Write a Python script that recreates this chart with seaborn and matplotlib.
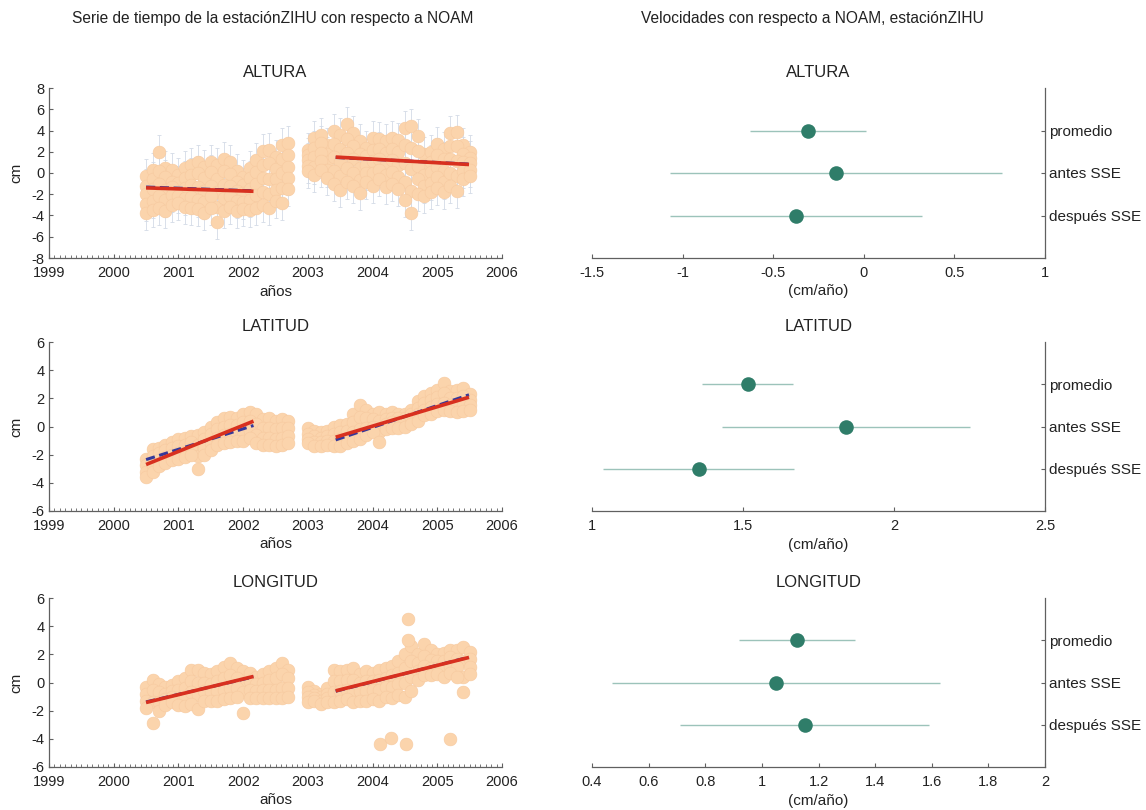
import numpy as np
import pandas as pd
import matplotlib
matplotlib.use("Agg")
import matplotlib.pyplot as plt
import seaborn as sns
from matplotlib.ticker import MultipleLocator, FuncFormatter

t_obs = [2000.5, 2000.6, 2000.7, 2000.8, 2000.9, 2001.0, 2001.1, 2001.2, 2001.3, 2001.4,
         2001.5, 2001.6, 2001.7, 2001.8, 2001.9, 2002.0, 2002.1, 2002.2, 2002.3, 2002.4,
         2002.5, 2002.6, 2002.7,
         2003.0, 2003.1, 2003.2, 2003.3, 2003.4, 2003.5, 2003.6, 2003.7, 2003.8, 2003.9,
         2004.0, 2004.1, 2004.2, 2004.3, 2004.4, 2004.5, 2004.6, 2004.7, 2004.8, 2004.9,
         2005.0, 2005.1, 2005.2, 2005.3, 2005.4, 2005.5]

# ALTURA (cm): spread of the cloud at each time, top to bottom
alt_hi = [-0.3, 0.3, 2.0, 0.5, 0.3, -0.2, 0.5, 0.8, 1.0, 0.6, 1.0, 0.8, 1.3, 1.0, 0.2, -0.4, 0.5, 1.2, 2.1, 2.2, 1.5, 2.6, 2.8,
          2.2, 3.3, 3.6, 2.6, 4.0, 3.6, 4.6, 3.8, 3.0, 2.4, 3.3, 3.2, 3.0, 3.3, 3.1, 4.2, 4.4, 3.5, 1.8, 2.0, 2.7, 2.3, 3.8, 3.9, 2.6, 2.0]
alt_up = [-1.2, -0.6, 0.2, -0.4, -0.8, -0.9, -0.5, -0.2, 0.0, -0.5, 0.1, -0.6, 0.2, -0.1, -0.8, -1.1, -0.5, 0.1, 0.8, 0.9, 0.4, 1.3, 1.7,
          1.7, 2.4, 2.8, 1.8, 2.7, 2.3, 3.2, 2.5, 1.8, 1.6, 2.2, 2.3, 1.9, 2.3, 2.0, 2.6, 2.4, 2.1, 0.8, 1.0, 1.7, 1.3, 2.5, 2.5, 1.8, 1.4]
alt_mid = [-2.0, -1.5, -1.0, -1.6, -1.3, -1.8, -1.4, -1.1, -1.3, -1.7, -1.2, -1.8, -1.1, -1.2, -1.7, -1.9, -1.5, -1.0, -0.5, -0.6, -0.6, 0.0, 0.6,
           1.2, 1.5, 1.9, 1.0, 1.5, 1.0, 1.9, 1.3, 0.5, 0.8, 1.1, 1.3, 0.8, 1.2, 0.8, 0.9, 0.4, 0.7, -0.2, 0.1, 0.6, 0.2, 1.3, 1.1, 1.0, 0.9]
alt_dn = [-2.9, -2.6, -2.2, -2.5, -2.1, -2.2, -2.4, -2.3, -2.5, -2.7, -2.2, -3.2, -2.4, -2.2, -2.6, -2.7, -2.5, -2.1, -1.8, -2.0, -1.6, -1.4, -0.5,
          0.7, 0.6, 1.1, 0.3, 0.2, -0.3, 0.5, 0.0, -0.7, 0.0, 0.0, 0.3, -0.2, 0.1, -0.4, -0.8, -1.7, -0.6, -1.2, -0.9, -0.4, -0.8, 0.0, -0.3, 0.2, 0.3]
alt_lo = [-3.8, -3.5, -3.3, -3.6, -3.0, -2.8, -3.2, -3.3, -3.4, -3.8, -3.3, -4.6, -3.6, -3.2, -3.6, -3.4, -3.5, -3.3, -3.0, -3.3, -2.6, -2.8, -1.5,
          0.2, -0.2, 0.3, -0.5, -1.0, -1.6, -0.8, -1.2, -1.9, -0.8, -1.2, -0.6, -1.3, -1.0, -1.5, -2.5, -3.8, -2.0, -2.2, -1.8, -1.4, -1.8, -1.2, -1.7, -0.6, -0.3]

# LATITUD (cm)
lat_hi = [-2.3, -1.6, -1.5, -1.3, -1.1, -0.9, -0.8, -0.7, -0.6, -0.4, 0.0, 0.3, 0.6, 0.7, 0.6, 0.9, 1.0, 0.9, 0.5, 0.6, 0.4, 0.5, 0.4,
          -0.1, -0.3, -0.4, -0.3, 0.0, 0.1, 0.2, 0.9, 1.5, 1.2, 0.9, 1.0, 0.9, 1.0, 0.9, 0.9, 1.2, 1.8, 2.2, 2.4, 2.6, 3.1, 2.5, 2.6, 2.7, 2.3]
lat_up = [-2.7, -2.1, -1.9, -1.7, -1.5, -1.4, -1.3, -1.1, -1.3, -0.9, -0.5, -0.2, 0.0, 0.1, 0.1, 0.3, 0.4, 0.2, -0.1, -0.1, -0.2, -0.1, -0.1,
          -0.5, -0.7, -0.8, -0.7, -0.5, -0.4, -0.3, 0.3, 0.7, 0.6, 0.5, 0.4, 0.5, 0.6, 0.6, 0.6, 0.9, 1.3, 1.7, 1.9, 2.1, 2.4, 2.0, 2.0, 2.2, 1.9]
lat_dn = [-3.2, -2.7, -2.4, -2.2, -2.0, -1.9, -1.8, -1.6, -2.1, -1.5, -1.2, -0.8, -0.6, -0.5, -0.5, -0.4, -0.3, -0.6, -0.8, -0.8, -0.9, -0.8, -0.7,
          -0.9, -1.1, -1.1, -1.0, -1.0, -0.9, -0.8, -0.4, -0.2, -0.1, 0.0, -0.4, 0.2, 0.3, 0.3, 0.4, 0.6, 0.9, 1.2, 1.4, 1.6, 1.7, 1.5, 1.5, 1.6, 1.5]
lat_lo = [-3.6, -3.2, -2.8, -2.6, -2.4, -2.3, -2.2, -2.0, -3.0, -2.0, -1.7, -1.3, -1.2, -1.1, -1.0, -1.0, -0.8, -1.2, -1.3, -1.3, -1.4, -1.3, -1.2,
          -1.2, -1.4, -1.4, -1.3, -1.4, -1.4, -1.2, -1.0, -0.9, -0.6, -0.4, -1.1, -0.2, -0.1, -0.1, 0.0, 0.2, 0.4, 0.8, 0.9, 1.1, 1.2, 1.1, 1.0, 1.1, 1.2]

# LONGITUD (cm)
lon_hi = [-0.3, 0.2, -0.1, -0.3, -0.2, 0.1, 0.3, 0.9, 0.9, 0.7, 0.6, 0.8, 1.1, 1.4, 1.0, 0.8, 0.7, 0.4, 0.6, 0.8, 1.0, 1.4, 0.9,
          -0.3, -0.6, -0.8, -0.4, 0.9, 0.8, 0.9, 1.0, 0.6, 0.8, 0.7, 0.9, 1.0, 1.2, 1.5, 2.0, 2.6, 2.0, 2.7, 2.3, 2.0, 2.1, 2.3, 2.3, 2.5, 2.2]
lon_up = [-0.8, -0.5, -0.7, -0.8, -0.6, -0.5, -0.4, 0.1, 0.0, 0.0, -0.1, 0.1, 0.3, 0.5, 0.3, 0.0, 0.1, -0.1, 0.0, 0.2, 0.3, 0.6, 0.3,
          -0.7, -0.9, -1.0, -0.8, 0.1, 0.1, 0.2, 0.2, 0.0, 0.1, 0.1, 0.2, 0.3, 0.5, 0.7, 1.0, 1.5, 1.4, 1.9, 1.6, 1.5, 1.5, 1.8, 1.7, 1.5, 1.7]
lon_dn = [-1.3, -1.4, -1.4, -1.2, -1.0, -1.1, -1.0, -0.7, -0.9, -0.6, -0.7, -0.6, -0.5, -0.4, -0.4, -0.7, -0.5, -0.6, -0.5, -0.5, -0.5, -0.4, -0.4,
          -1.0, -1.1, -1.3, -1.1, -0.7, -0.6, -0.5, -0.6, -0.6, -0.6, -0.5, -0.5, -0.3, -0.3, -0.1, 0.0, 0.4, 0.8, 1.2, 1.0, 1.0, 1.0, 1.2, 1.1, 0.4, 1.1]
lon_lo = [-1.8, -2.9, -2.0, -1.6, -1.4, -1.6, -1.7, -1.5, -1.9, -1.3, -1.3, -1.3, -1.2, -1.1, -1.0, -2.2, -1.1, -1.1, -1.1, -1.1, -1.1, -1.1, -1.0,
          -1.4, -1.3, -1.5, -1.4, -1.4, -1.3, -1.2, -1.4, -1.3, -1.3, -1.2, -1.3, -1.0, -1.1, -0.9, -1.0, -0.6, 0.2, 0.5, 0.5, 0.6, 0.4, 0.7, 0.4, -0.7, 0.6]
lon_out_t = [2004.12, 2004.28, 2004.51, 2005.20, 2004.55, 2004.55]
lon_out_v = [-4.35, -3.95, -4.35, -4.00, 4.50, 3.00]

# daily error bar (cm)
sigma = {"ALTURA": 1.6, "LATITUD": 0.3, "LONGITUD": 0.3}

# fitted trends: start/end time and value for each segment (before / after SSE)
fit_t = [[2000.5, 2002.16], [2003.43, 2005.49]]
red_fit = {"ALTURA": [[-1.40, -1.72], [1.50, 0.80]],
           "LATITUD": [[-2.70, 0.38], [-0.76, 2.08]],
           "LONGITUD": [[-1.42, 0.43], [-0.59, 1.78]]}
blue_fit = {"ALTURA": [[-1.32, -1.68], [1.46, 0.84]],
            "LATITUD": [[-2.35, 0.07], [-0.95, 2.25]],
            "LONGITUD": [[-1.38, 0.40], [-0.62, 1.80]]}

# velocities (cm/año) and their uncertainties
vel_labels = ["promedio", "antes SSE", "después SSE"]
vel_alt = [-0.31, -0.155, -0.375]
err_alt = [0.32, 0.915, 0.695]
vel_lat = [1.515, 1.842, 1.353]
err_lat = [0.15, 0.41, 0.315]
vel_lon = [1.123, 1.050, 1.152]
err_lon = [0.205, 0.578, 0.440]

W, H = 1146, 810
ORANGE = "#FBD4AC"
ORANGE_EDGE = "#F7CAA0"
RED = "#D8301F"
BLUE = "#34389A"
TEAL = "#2F7D69"
TEAL_LIGHT = "#9CC3BA"
SPINE = "#606060"
TXT = "#222222"


def rect(x0, x1, top, bot):
    return [x0 / W, 1 - bot / H, (x1 - x0) / W, (bot - top) / H]


def cloud_frame(cols, extra_t=(), extra_v=()):
    frames = [pd.DataFrame({"t": t_obs, "v": c}) for c in cols]
    if len(extra_t):
        frames.append(pd.DataFrame({"t": list(extra_t), "v": list(extra_v)}))
    return pd.concat(frames, ignore_index=True)


sns.set_style("ticks")
plt.rcParams["font.family"] = ["Liberation Sans", "DejaVu Sans"]
plt.rcParams["axes.unicode_minus"] = False

fig = plt.figure(figsize=(W / 100, H / 100), dpi=100)

fig.text(273 / W, 1 - 19 / H, "Serie de tiempo de la estaciónZIHU con respecto a NOAM",
         ha="center", va="center", fontsize=11.2, color=TXT)
fig.text(812 / W, 1 - 19 / H, "Velocidades con respecto a NOAM, estaciónZIHU",
         ha="center", va="center", fontsize=11.2, color=TXT)

rows = [(88, 258), (342, 511), (598, 767)]
series = [
    ("ALTURA", cloud_frame([alt_hi, alt_up, alt_mid, alt_dn, alt_lo]), 8, vel_alt, err_alt, (-1.5, 1.0, 0.5)),
    ("LATITUD", cloud_frame([lat_hi, lat_up, lat_dn, lat_lo]), 6, vel_lat, err_lat, (1.0, 2.5, 0.5)),
    ("LONGITUD", cloud_frame([lon_hi, lon_up, lon_dn, lon_lo], lon_out_t, lon_out_v), 6, vel_lon, err_lon, (0.4, 2.0, 0.2)),
]

fmt = FuncFormatter(lambda v, _: f"{v:g}")

for (top, bot), (name, df, ylim, vel, err, xr) in zip(rows, series):
    # time series
    ax = fig.add_axes(rect(49, 502, top, bot))
    ax.errorbar(df["t"], df["v"], yerr=sigma[name], fmt="none", ecolor="#D3DBE6",
                elinewidth=0.6, capsize=1.5, capthick=0.6, zorder=1)
    sns.scatterplot(data=df, x="t", y="v", ax=ax, s=85, color=ORANGE,
                    edgecolor=ORANGE_EDGE, linewidth=0.4, zorder=2, legend=False)
    for seg_t, bv, rv in zip(fit_t, blue_fit[name], red_fit[name]):
        ax.plot(seg_t, bv, color=BLUE, lw=2.2, ls=(0, (3, 1.5)), zorder=3)
        ax.plot(seg_t, rv, color=RED, lw=2.6, solid_capstyle="butt", zorder=4)
    ax.set_xlim(1999, 2006)
    ax.set_ylim(-ylim, ylim)
    ax.set_xticks(range(1999, 2007))
    ax.xaxis.set_minor_locator(MultipleLocator(1 / 12))
    ax.set_yticks(range(-ylim, ylim + 1, 2))
    ax.tick_params(direction="in", length=3, width=0.8, color=SPINE,
                   labelcolor=TXT, labelsize=10.5)
    ax.tick_params(axis="x", pad=6)
    ax.tick_params(axis="y", pad=3)
    ax.tick_params(which="minor", direction="in", length=2, width=0.6, color=SPINE)
    sns.despine(ax=ax)
    for sp in ("left", "bottom"):
        ax.spines[sp].set_color(SPINE)
        ax.spines[sp].set_linewidth(0.9)
    ax.set_title(name, fontsize=12, pad=8, color=TXT)
    ax.set_xlabel("años", fontsize=11, labelpad=3, color=TXT)
    ax.set_ylabel("cm", fontsize=11, labelpad=6, color=TXT)

    # velocities
    axr = fig.add_axes(rect(592, 1045, top, bot))
    ypos = np.arange(len(vel_labels))[::-1] + 1
    axr.errorbar(vel, ypos, xerr=err, fmt="none", ecolor=TEAL_LIGHT, elinewidth=1.0, zorder=1)
    sns.scatterplot(x=vel, y=ypos, ax=axr, s=110, color=TEAL, edgecolor=TEAL,
                    linewidth=0, zorder=2, legend=False)
    axr.set_xlim(xr[0], xr[1])
    axr.set_xticks(np.arange(xr[0], xr[1] + xr[2] / 2, xr[2]))
    axr.xaxis.set_major_formatter(fmt)
    axr.set_ylim(0, len(vel_labels) + 1)
    axr.set_yticks(ypos)
    axr.set_yticklabels(vel_labels)
    axr.yaxis.tick_right()
    axr.tick_params(direction="in", length=3, width=0.8, color=SPINE,
                    labelcolor=TXT, labelsize=10.5)
    axr.tick_params(axis="x", pad=6)
    axr.tick_params(axis="y", pad=3, labelsize=11)
    for sp in ("top", "left"):
        axr.spines[sp].set_visible(False)
    for sp in ("right", "bottom"):
        axr.spines[sp].set_visible(True)
        axr.spines[sp].set_color(SPINE)
        axr.spines[sp].set_linewidth(0.9)
    axr.set_title(name, fontsize=12, pad=8, color=TXT)
    axr.set_xlabel("(cm/año)", fontsize=11, labelpad=3, color=TXT)
    axr.set_ylabel("")

fig.savefig("out.png", dpi=100)
